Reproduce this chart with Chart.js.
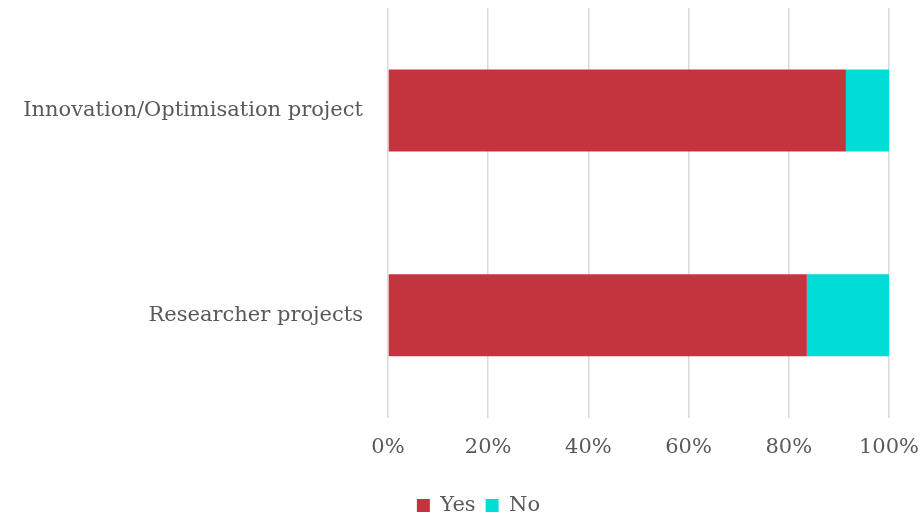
<!DOCTYPE html>
<html>
<head>
<meta charset="utf-8">
<script src="https://cdn.jsdelivr.net/npm/chart.js@4/dist/chart.umd.min.js"></script>
<style>
	html, body { margin: 0; padding: 0; background: #fff; }
	#wrap { width: 920px; height: 518px; }
</style>
</head>
<body>
<div id="wrap"><canvas id="mychart" width="920" height="518"></canvas></div>
<script>
var categories = ['Innovation/Optimisation project', 'Researcher projects'];
var yesValues = [91.4, 83.6];
var noValues = [8.6, 16.4];
var seriesNames = ['Yes', 'No'];

var textColor = '#595959';
var fontFamily = "'DejaVu Serif', Georgia, serif";

// legend sits a bit right of the canvas centre in the original
var shiftLegend = {
	id: 'shiftLegend',
	afterLayout: function (chart) {
		chart.legend.left += 34;
		chart.legend.right += 34;
	}
};

var chart = new Chart(document.getElementById('mychart'), {
	type: 'bar',
	plugins: [shiftLegend],
	data: {
		labels: categories,
		datasets: [
			{
				label: seriesNames[0],
				data: yesValues,
				backgroundColor: '#C3343F',
				barPercentage: 0.4,
				categoryPercentage: 1
			},
			{
				label: seriesNames[1],
				data: noValues,
				backgroundColor: '#00DCD6',
				barPercentage: 0.4,
				categoryPercentage: 1
			}
		]
	},
	options: {
		indexAxis: 'y',
		responsive: false,
		animation: false,
		layout: {
			padding: { top: 8, right: 31, bottom: -8, left: 0 }
		},
		scales: {
			x: {
				stacked: true,
				min: 0,
				max: 100,
				ticks: {
					stepSize: 20,
					color: textColor,
					padding: 17,
					font: { family: fontFamily, size: 21 },
					callback: function (v) { return v + '%'; }
				},
				grid: { color: '#D9D9D9', lineWidth: 1.5, drawTicks: false },
				border: { display: false },
				afterFit: function (scale) {
					scale.height = scale.height + 8;
					scale.paddingLeft = 0;
					scale.paddingRight = 0;
				}
			},
			y: {
				stacked: true,
				ticks: {
					color: textColor,
					padding: 25,
					font: { family: fontFamily, size: 21 }
				},
				grid: { display: false, drawTicks: false },
				border: { display: false },
				afterFit: function (scale) {
					scale.width = 388;
					scale.paddingTop = 0;
					scale.paddingBottom = 0;
				}
			}
		},
		plugins: {
			legend: {
				position: 'bottom',
				labels: {
					color: textColor,
					boxWidth: 13,
					boxHeight: 13,
					padding: 10,
					font: { family: fontFamily, size: 21 }
				}
			},
			tooltip: { enabled: false }
		}
	}
});
</script>
</body>
</html>
